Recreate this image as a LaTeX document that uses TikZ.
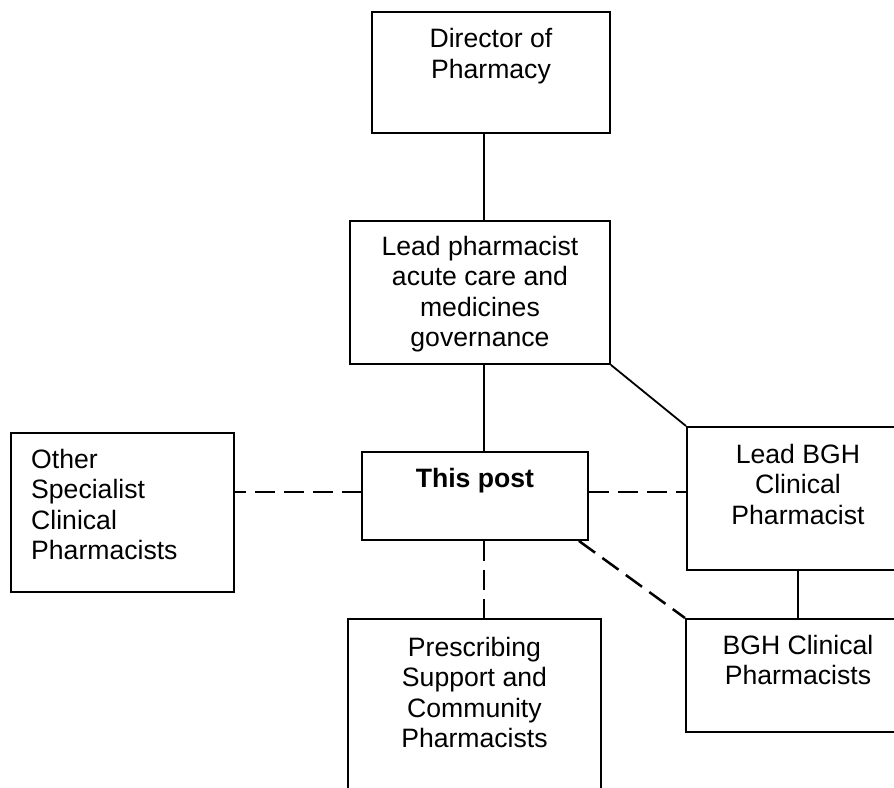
\documentclass[tikz,border=0pt]{standalone}
\usepackage{fontspec}
\setmainfont{Liberation Sans}
\usetikzlibrary{calc}
\begin{document}
\begin{tikzpicture}[x=1pt,y=-1pt,
  box/.style={draw=black,line width=1.9pt,rectangle,inner sep=0pt,anchor=north west},
  lbl/.style={align=center,inner sep=0pt,anchor=north,font=\fontsize{26.6}{30.5}\selectfont},
  link/.style={line width=1.8pt},
  dlink/.style={line width=2.5pt,dash pattern=on 20pt off 9pt}]
\useasboundingbox (0,0) rectangle (894,787);
\clip (0,0) rectangle (894,787);
% boxes
\node[box,minimum width=238pt,minimum height=121pt] (dir) at (371,11) {};
\node[box,minimum width=260pt,minimum height=143pt] (lead) at (349,220) {};
\node[box,minimum width=226pt,minimum height=88pt] (post) at (361,451) {};
\node[box,minimum width=223pt,minimum height=159pt] (other) at (10,432) {};
\node[box,minimum width=222pt,minimum height=143pt] (lbgh) at (686,426) {};
\node[box,minimum width=224pt,minimum height=113pt] (bgh) at (685,618) {};
\node[box,minimum width=253pt,minimum height=200pt] (presc) at (347,618) {};
% texts
\node[lbl] (dirT) at ($(dir.north)+(0,17.5)$) {Director of\\Pharmacy};
\node[lbl] (leadT) at ($(lead.north)+(0,16)$) {Lead pharmacist\\acute care and\\medicines\\governance};
\node[lbl,font=\fontsize{26.6}{30.5}\selectfont\bfseries] (postT) at ($(post.north)+(0,17)$) {This post};
\node[lbl,align=left,anchor=north west] (otherT) at ($(other.north west)+(21,17)$) {Other\\Specialist\\Clinical\\Pharmacists};
\node[lbl] (lbghT) at ($(lbgh.north)+(0,18)$) {Lead BGH\\Clinical\\Pharmacist};
\node[lbl] (bghT) at ($(bgh.north)+(0,17)$) {BGH Clinical\\Pharmacists};
\node[lbl] (prescT) at ($(presc.north)+(0,19)$) {Prescribing\\Support and\\Community\\Pharmacists};
% connectors
\coordinate (ax) at (484,0);
\coordinate (hl) at (0,492);
\draw[link] (dir.south -| ax) -- (lead.north -| ax);
\draw[link] (lead.south -| ax) -- (post.north -| ax);
\draw[link] (lead.south east) -- (lbgh.north west);
\draw[dlink,dash phase=9pt] (other.east |- hl) -- (post.west |- hl);
\draw[dlink] (post.east |- hl) -- (lbgh.west |- hl);
\draw[dlink] (post.south -| ax) -- (presc.north -| ax);
\draw[dlink] ($(post.south east)+(-10,0)$) -- (bgh.north west);
\draw[link] (lbgh.south) -- (bgh.north);
\end{tikzpicture}
\end{document}
